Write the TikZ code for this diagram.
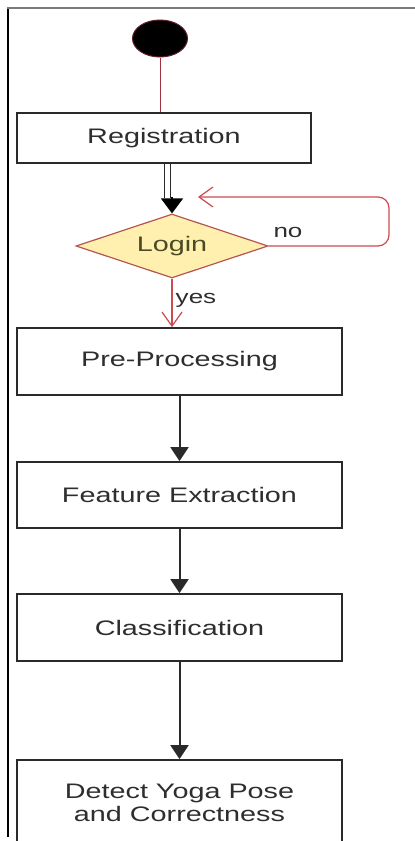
\documentclass[tikz,border=0pt]{standalone}
\usepackage{fontspec}
\setmainfont{Liberation Sans}
\newfontfamily\widefont[FakeStretch=1.37]{Liberation Sans}
\usetikzlibrary{shapes.geometric,arrows.meta,calc}
\definecolor{txtgray}{HTML}{2E2E2E}
\definecolor{boxline}{HTML}{2A2A2A}
\definecolor{framegray}{HTML}{7A7A7A}
\definecolor{loopred}{HTML}{CC4A50}
\definecolor{darkred}{HTML}{A33040}
\definecolor{dmdfill}{HTML}{FFF0B0}
\definecolor{dmdline}{HTML}{B85450}
\definecolor{logintxt}{HTML}{4A4A24}
\begin{document}
\begin{tikzpicture}[x=1pt,y=-1pt,
  stepbox/.style={draw=boxline,line width=1.8pt,fill=white,minimum width=325pt,
    inner sep=0pt,font=\widefont\fontsize{21}{23}\selectfont,text=txtgray,align=center},
  flowarrow/.style={draw=boxline,line width=2pt,-{Triangle[length=14pt,width=18pt]}},
  redarrow/.style={draw=loopred,line width=1.2pt,-{Straight Barb[length=14pt,width=20pt,line width=1.2pt]}},
  lbl/.style={font=\widefont\fontsize{19}{21}\selectfont,text=txtgray,inner sep=0pt}]
\useasboundingbox (0,0) rectangle (415,841);
% frame
\draw[black,line width=1.4pt] (8,837) -- (8,7.5);
\draw[framegray,line width=2pt] (7.3,7.5) -- (416,7.5);
% nodes
\node[ellipse,draw=darkred!60!black,line width=1pt,fill=black,minimum width=55pt,minimum height=37pt,inner sep=0pt] (start) at (160,38.5) {};
\node[stepbox,minimum width=294pt,minimum height=50pt] (reg) at (164,138) {Registration};
\node[diamond,aspect=3,draw=dmdline,line width=1.2pt,fill=dmdfill,minimum width=192pt,minimum height=64pt,inner sep=0pt,
  font=\widefont\fontsize{21}{23}\selectfont,text=logintxt] (login) at (172,246) {Login};
\node[stepbox,minimum height=67pt] (pre) at (179.5,361.5) {Pre-Processing};
\node[stepbox,minimum height=66pt] (fe) at (179.5,495) {Feature Extraction};
\node[stepbox,minimum height=67pt] (cls) at (179.5,627.5) {Classification};
\node[stepbox,minimum height=85pt] (det) at (179.5,802.5) {Detect Yoga Pose\\and Correctness};
% connectors
\draw[darkred,line width=1pt] (start.south) -- (start.south |- reg.north);
\coordinate (dtop) at ($(reg.south)+(3.5,0)$);
\coordinate (dbot) at (167.5,198);
\draw[boxline,line width=1.2pt,double=white,double distance=5pt] (dtop) -- (dbot);
\coordinate (tipstart) at (172,197);
\draw[black,line width=1.2pt,-{Triangle[length=15pt,width=22pt]}] (tipstart) -- (login.north);
\coordinate (loopend) at (198,197);
\draw[redarrow,rounded corners=11pt] (login.east) -- (389,246) -- (389,197) -- (loopend);
\draw[redarrow] (login.south) -- (login.south |- pre.north);
\draw[flowarrow] (pre.south) -- (fe.north);
\draw[flowarrow] (fe.south) -- (cls.north);
\draw[flowarrow] (cls.south) -- (det.north);
% labels
\node[lbl] (nolbl) at (288,232) {no};
\node[lbl] (yeslbl) at (196,300) {yes};
\end{tikzpicture}
\end{document}
